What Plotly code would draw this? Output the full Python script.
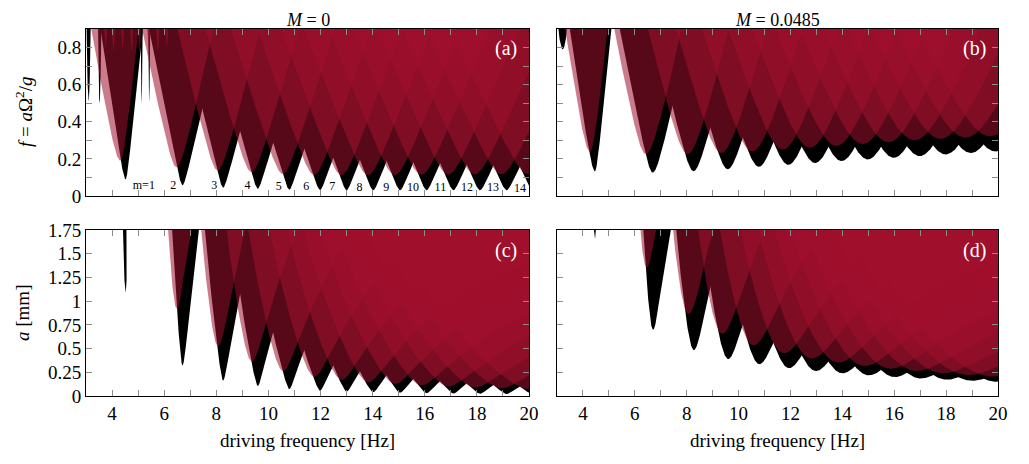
import numpy as np
import plotly.graph_objects as go

G_MM = 9810.0  # gravity in mm/s^2

# ---------------- data ----------------
mode_m = list(range(1, 15))
mode_labels = ["m=1"] + [str(m) for m in range(2, 15)]
label_freq = [5.22, 6.35, 7.92, 9.2, 10.4, 11.45, 12.45, 13.5, 14.52, 15.55, 16.6, 17.62, 18.62, 19.65]
label_level = [0.055, 0.055, 0.052, 0.052, 0.05, 0.048, 0.046, 0.045, 0.044, 0.044, 0.043, 0.042, 0.041, 0.04]

# Panel (a)/(c): M = 0  (thresholds in f = a Omega^2 / g)
a_black_freq = [4.52, 6.70, 8.26, 9.59, 10.80, 11.98, 13.00, 14.02, 15.05, 16.07, 17.10, 18.12, 19.14, 20.15]
a_black_tip = [0.090, 0.058, 0.045, 0.039, 0.034, 0.032, 0.031, 0.031, 0.031, 0.031, 0.031, 0.031, 0.031, 0.031]
a_black_wl = [1.10, 1.45, 1.75, 2.00, 2.25, 2.45, 2.60, 2.75, 2.85, 2.95, 3.05, 3.15, 3.25, 3.35]
a_black_wr = [0.75, 1.65, 1.90, 2.10, 2.30, 2.50, 2.65, 2.80, 2.90, 3.00, 3.10, 3.20, 3.30, 3.40]
a_red_freq = [4.32, 6.47, 8.05, 9.35, 10.55, 11.75, 12.80, 13.82, 14.85, 15.87, 16.90, 17.92, 18.94, 19.95]
a_red_tip = [0.190, 0.155, 0.137, 0.128, 0.118, 0.113, 0.112, 0.112, 0.113, 0.114, 0.115, 0.116, 0.117, 0.118]
a_red_wl = [1.28, 1.50, 1.75, 2.00, 2.25, 2.45, 2.60, 2.75, 2.85, 2.95, 3.05, 3.15, 3.25, 3.35]
a_red_wr = [0.80, 1.60, 1.85, 2.05, 2.25, 2.45, 2.60, 2.75, 2.85, 2.95, 3.05, 3.15, 3.25, 3.35]
a_spike_freq = [3.10, 3.52, 5.13, 5.42]
a_spike_tip = [0.51, 0.50, 0.50, 0.51]
a_spike_w = [0.12, 0.10, 0.07, 0.07]
a_thin_red_freq = [3.75, 4.05, 4.40, 4.75, 5.05, 5.40, 5.75, 6.10]
a_thin_red_tip = [0.80, 0.78, 0.80, 0.78, 0.78, 0.80, 0.78, 0.80]
a_thin_red_w = [0.15, 0.15, 0.15, 0.15, 0.15, 0.15, 0.15, 0.15]

# Panel (b)/(d): M = 0.0485
b_black_freq = [4.46, 6.69, 8.26, 9.58, 10.78, 11.92, 12.95, 13.97, 14.98, 15.98, 16.98, 17.98, 18.95, 19.90]
b_black_tip = [0.133, 0.126, 0.133, 0.144, 0.157, 0.168, 0.178, 0.188, 0.197, 0.206, 0.215, 0.224, 0.232, 0.240]
b_black_wl = [1.10, 1.45, 1.75, 2.00, 2.25, 2.45, 2.60, 2.75, 2.85, 2.95, 3.05, 3.15, 3.25, 3.35]
b_black_wr = [0.72, 1.65, 1.90, 2.10, 2.30, 2.50, 2.65, 2.80, 2.90, 3.00, 3.10, 3.20, 3.30, 3.40]
b_red_freq = [4.27, 6.42, 8.03, 9.33, 10.53, 11.70, 12.75, 13.77, 14.78, 15.78, 16.78, 17.78, 18.75, 19.70]
b_red_tip = [0.238, 0.226, 0.226, 0.232, 0.240, 0.250, 0.260, 0.270, 0.280, 0.290, 0.300, 0.308, 0.315, 0.322]
b_red_wl = [1.10, 1.40, 1.75, 2.00, 2.25, 2.45, 2.60, 2.75, 2.85, 2.95, 3.05, 3.15, 3.25, 3.35]
b_red_wr = [0.80, 1.60, 1.85, 2.05, 2.25, 2.45, 2.60, 2.75, 2.85, 2.95, 3.05, 3.15, 3.25, 3.35]
b_spike_freq = [3.22]
b_spike_tip = [0.79]
b_spike_w = [0.40]

# axis ticks: labelled major ticks and unlabelled minor ticks
x_major = dict(tick0=4, dtick=2)
x_minor = dict(tick0=3, dtick=1)
f_major = dict(tick0=0, dtick=0.2)
f_minor = dict(tick0=0, dtick=0.1)
a_major = dict(tick0=0, dtick=0.25)

BLACK = "rgb(0,0,0)"
RED = "rgba(160,16,46,0.55)"
FONT = "Liberation Serif, Times New Roman, serif"
TICKCOL = "#8c8c8c"


def tongue(x0, y0, wl, wr, ymax=3.6, n=140):
    ymax = min(ymax, (x0 - 0.8) / wl)
    t = np.linspace(0.0, np.arccosh(ymax / y0), n)
    yy = y0 * np.cosh(t)
    left = x0 - wl * y0 * np.sinh(t)
    right = x0 + wr * y0 * np.sinh(t)
    top_x = np.linspace(right[-1], left[-1], 60)
    xs = np.concatenate([left[::-1], right, top_x])
    ys = np.concatenate([yy[::-1], yy, np.full(60, yy[-1])])
    return xs, ys


def to_mm(xs, fs):
    return fs * G_MM / (2 * np.pi * xs) ** 2


fig = go.Figure()

panels = [
    ("x", "y", "x3", "y3", dict(
        bf=a_black_freq, bt=a_black_tip, bwl=a_black_wl, bwr=a_black_wr,
        rf=a_red_freq, rt=a_red_tip, rwl=a_red_wl, rwr=a_red_wr,
        sf=a_spike_freq, st=a_spike_tip, sw=a_spike_w,
        tf=a_thin_red_freq, tt=a_thin_red_tip, tw=a_thin_red_w)),
    ("x2", "y2", "x4", "y4", dict(
        bf=b_black_freq, bt=b_black_tip, bwl=b_black_wl, bwr=b_black_wr,
        rf=b_red_freq, rt=b_red_tip, rwl=b_red_wl, rwr=b_red_wr,
        sf=b_spike_freq, st=b_spike_tip, sw=b_spike_w,
        tf=[], tt=[], tw=[])),
]


def add_poly(xs, ys, color, xa, ya):
    fig.add_trace(go.Scatter(x=xs, y=ys, mode="lines", fill="toself", fillcolor=color,
                             line=dict(width=0, color=color), hoverinfo="skip",
                             showlegend=False, xaxis=xa, yaxis=ya))


for xt, yt, xb, yb, d in panels:
    shapes_black = []
    for i in range(len(d["bf"])):
        shapes_black.append(tongue(d["bf"][i], d["bt"][i], d["bwl"][i], d["bwr"][i]))
    for i in range(len(d["sf"])):
        shapes_black.append(tongue(d["sf"][i], d["st"][i], d["sw"][i], d["sw"][i]))
    shapes_red = []
    for i in range(len(d["rf"])):
        shapes_red.append(tongue(d["rf"][i], d["rt"][i], d["rwl"][i], d["rwr"][i]))
    for i in range(len(d["tf"])):
        shapes_red.append(tongue(d["tf"][i], d["tt"][i], d["tw"][i], d["tw"][i]))
    for xs, ys in shapes_black:
        add_poly(xs, ys, BLACK, xt, yt)
        add_poly(xs, to_mm(xs, ys), BLACK, xb, yb)
    for xs, ys in shapes_red:
        add_poly(xs, ys, RED, xt, yt)
        add_poly(xs, to_mm(xs, ys), RED, xb, yb)

# tongue index labels in panel (a)
fig.add_trace(go.Scatter(x=label_freq, y=label_level, mode="text", text=mode_labels,
                         textfont=dict(family=FONT, size=12, color="black"),
                         hoverinfo="skip", showlegend=False, xaxis="x", yaxis="y"))

# The page body has an 8px margin; screen px -> figure paper coordinates
OFF = 8
W, H = 1029 - OFF, 464 - OFF


def px_x(v):
    return (v - OFF) / W


def px_y(v):
    return 1 - (v - OFF) / H


xa_dom = [px_x(86), px_x(529)]
xb_dom = [px_x(557), px_x(998)]
top_dom = [px_y(196), px_y(29)]
bot_dom = [px_y(396), px_y(230)]

tick_style = dict(ticks="inside", ticklen=6, tickcolor=TICKCOL, tickwidth=1)
base = dict(tick_style, showline=True, linecolor="black", linewidth=1, mirror="allticks",
            showgrid=False, zeroline=False, automargin=False, tickmode="linear",
            tickfont=dict(family=FONT, size=19, color="black"))
common_x = dict(base, range=[3, 20], **x_major, minor=dict(tick_style, **x_minor))

layout = dict(
    width=W, height=H, margin=dict(l=0, r=0, t=0, b=0, autoexpand=False),
    paper_bgcolor="white", plot_bgcolor="white", showlegend=False,
    xaxis=dict(common_x, domain=xa_dom, anchor="y", showticklabels=False),
    xaxis2=dict(common_x, domain=xb_dom, anchor="y2", showticklabels=False),
    xaxis3=dict(common_x, domain=xa_dom, anchor="y3"),
    xaxis4=dict(common_x, domain=xb_dom, anchor="y4"),
    yaxis=dict(base, domain=top_dom, anchor="x", range=[0, 0.9], **f_major,
               minor=dict(tick_style, **f_minor)),
    yaxis2=dict(base, domain=top_dom, anchor="x2", range=[0, 0.9], **f_major,
                minor=dict(tick_style, **f_minor), showticklabels=False),
    yaxis3=dict(base, domain=bot_dom, anchor="x3", range=[0, 1.75], **a_major),
    yaxis4=dict(base, domain=bot_dom, anchor="x4", range=[0, 1.75], **a_major,
                showticklabels=False),
)
fig.update_layout(**layout)

ann = []


def add_text(text, xpx, ypx, size=19, color="black", angle=0, xanchor="center", yanchor="middle"):
    ann.append(dict(text=text, x=px_x(xpx), y=px_y(ypx), xref="paper", yref="paper",
                    xanchor=xanchor, yanchor=yanchor, showarrow=False, textangle=angle,
                    font=dict(family=FONT, size=size, color=color)))


# column titles sit at the very top of the page
add_text("<i>M</i> = 0", (86 + 529) / 2, OFF, size=18, yanchor="top")
add_text("<i>M</i> = 0.0485", (557 + 998) / 2, OFF, size=18, yanchor="top")
add_text("driving frequency [Hz]", (86 + 529) / 2, 440)
add_text("driving frequency [Hz]", (557 + 998) / 2, 440)
add_text("<i>f</i> = <i>a</i>Ω<sup>2</sup>/<i>g</i>", 24, 112, angle=-90)
add_text("<i>a</i> [mm]", 22, 313, angle=-90)
for lab, right, ypx in (("(a)", 529, 48), ("(b)", 998, 48), ("(c)", 529, 250), ("(d)", 998, 250)):
    add_text(lab, right - 10, ypx, size=20, color="white", xanchor="right")
fig.update_layout(annotations=ann)

fig.write_html("out.html")
